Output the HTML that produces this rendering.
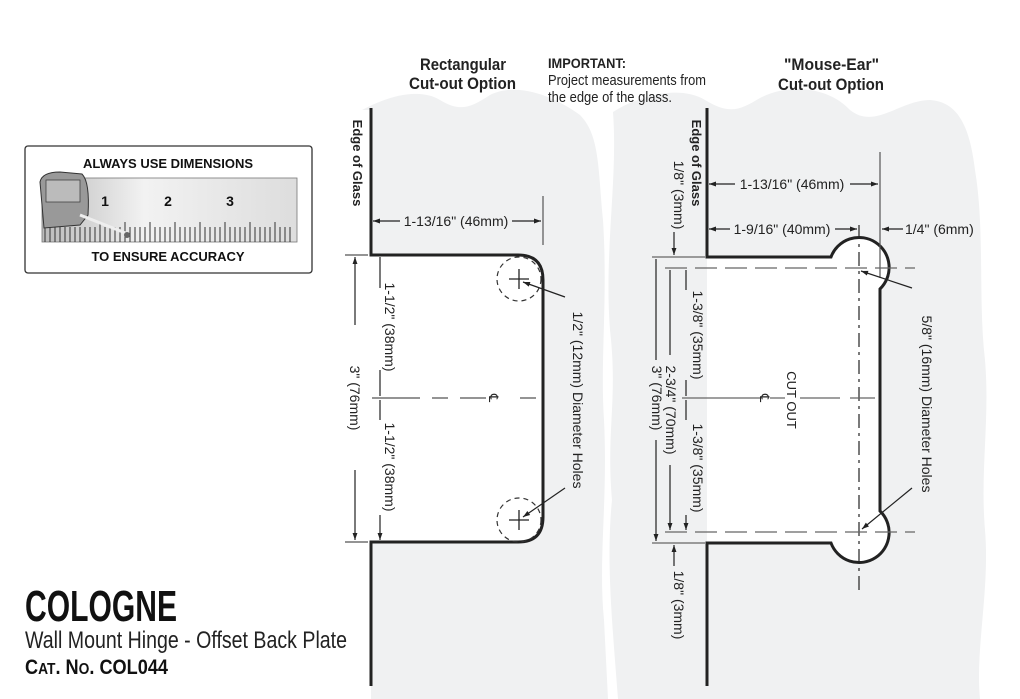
<!DOCTYPE html>
<html><head><meta charset="utf-8"><style>
html,body{margin:0;padding:0;background:#fff;}
svg{display:block;font-family:"Liberation Sans",sans-serif;}
</style></head><body>
<svg width="1020" height="699" viewBox="0 0 1020 699" xmlns="http://www.w3.org/2000/svg">
<defs>
<marker id="a" viewBox="0 0 10 10" refX="10" refY="5" markerWidth="9" markerHeight="7" orient="auto-start-reverse" markerUnits="userSpaceOnUse"><path d="M0,1.5 L10,5 L0,8.5 z" fill="#222"/></marker>
<linearGradient id="g" x1="0" x2="1"><stop offset="0" stop-color="#bbb"/><stop offset="0.4" stop-color="#f2f2f2"/><stop offset="1" stop-color="#ddd"/></linearGradient>
</defs>
<path d="M362,110 C390,95 420,88 440,100 C460,112 470,108 490,95 C520,80 560,100 580,115 C600,135 598,170 603,220 C608,300 600,360 604,420 C608,500 598,560 604,620 L608,699 L371,699 L371,110 Z" fill="#f0f1f2"/>
<path d="M613,112 C640,95 680,85 705,100 C730,115 740,110 760,98 C790,82 830,88 850,110 C875,130 900,100 930,100 C960,102 970,130 975,170 C985,230 978,300 985,360 C990,420 980,470 985,530 C990,590 975,650 980,699 L618,699 C612,620 606,560 612,500 C606,430 618,400 610,330 C604,250 618,180 613,112 Z" fill="#f0f1f2"/>
<path d="M371,255 L518,255 Q543,255 543,280 L543,517 Q543,542 518,542 L371,542 Z" fill="#fff"/>
<path d="M707,257 L831,257 A30,30 0 1 1 880,289 L880,511 A30,30 0 1 1 831,543 L707,543 Z" fill="#fff"/>
<path d="M371,108 L371,255 L518,255 Q543,255 543,280 L543,517 Q543,542 518,542 L371,542 L371,686" fill="none" stroke="#222" stroke-width="3"/>
<path d="M707,108 L707,257 L831,257 A30,30 0 1 1 880,289 L880,511 A30,30 0 1 1 831,543 L707,543 L707,686" fill="none" stroke="#222" stroke-width="3"/>
<circle cx="519" cy="279" r="22" fill="none" stroke="#333" stroke-width="1.2" stroke-dasharray="5,4"/>
<circle cx="519" cy="520" r="22" fill="none" stroke="#333" stroke-width="1.2" stroke-dasharray="5,4"/>
<path d="M509,279h20M519,269v20M509,520h20M519,510v20" stroke="#222" stroke-width="1.3"/>
<path d="M565,297 L523,282" stroke="#222" stroke-width="1.2" marker-end="url(#a)"/>
<path d="M565,488 L523,517" stroke="#222" stroke-width="1.2" marker-end="url(#a)"/>
<path d="M543,196 L543,245" stroke="#555" stroke-width="1.2"/>
<path d="M400,221 L373,221" stroke="#222" stroke-width="1.2" marker-end="url(#a)"/>
<path d="M512,221 L541,221" stroke="#222" stroke-width="1.2" marker-end="url(#a)"/>
<text x="456" y="226" font-size="14" text-anchor="middle" fill="#222">1-13/16" (46mm)</text>
<path d="M345,255 L368,255 M345,542 L368,542" stroke="#555" stroke-width="1.2"/>
<path d="M355,325 L355,257" stroke="#222" stroke-width="1.2" marker-end="url(#a)"/>
<path d="M355,470 L355,540" stroke="#222" stroke-width="1.2" marker-end="url(#a)"/>
<path d="M380,288 L380,257 M380,370 L380,396 M380,420 L380,400 M380,515 L380,540" stroke="#222" stroke-width="1.2" marker-end="url(#a)"/>
<path d="M372,398 H420 M432,398 H448 M460,398 H486 M520,398 H536" stroke="#555" stroke-width="1.3"/>
<text transform="translate(350,398) rotate(90)" font-size="14" text-anchor="middle" fill="#222">3" (76mm)</text>
<text transform="translate(385,327) rotate(90)" font-size="14" text-anchor="middle" fill="#222">1-1/2" (38mm)</text>
<text transform="translate(385,467) rotate(90)" font-size="14" text-anchor="middle" fill="#222">1-1/2" (38mm)</text>
<text transform="translate(489,398) rotate(90)" font-size="13" text-anchor="middle" fill="#222">℄</text>
<text transform="translate(573,400) rotate(90)" font-size="14" text-anchor="middle" fill="#222">1/2" (12mm) Diameter Holes</text>
<text transform="translate(353,163) rotate(90)" font-size="13" font-weight="bold" text-anchor="middle" fill="#222">Edge of Glass</text>
<path d="M859,225 V590" stroke="#222" stroke-width="1.2" stroke-dasharray="14,5,3,5"/>
<path d="M880,152 V278" stroke="#555" stroke-width="1.2"/>
<path d="M665,268 H915 M665,532 H915" stroke="#666" stroke-width="1.3" stroke-dasharray="22,8"/>
<path d="M682,398 H760 M770,398 H785 M800,398 H840 M850,398 H875" stroke="#666" stroke-width="1.3"/>
<path d="M652,257 H705 M652,543 H705" stroke="#666" stroke-width="1.2"/>
<path d="M735,184 L709,184" stroke="#222" stroke-width="1.2" marker-end="url(#a)"/>
<path d="M850,184 L878,184" stroke="#222" stroke-width="1.2" marker-end="url(#a)"/>
<text x="792" y="189" font-size="14" text-anchor="middle" fill="#222">1-13/16" (46mm)</text>
<path d="M730,229 L709,229" stroke="#222" stroke-width="1.2" marker-end="url(#a)"/>
<path d="M835,229 L857,229" stroke="#222" stroke-width="1.2" marker-end="url(#a)"/>
<text x="782" y="234" font-size="14" text-anchor="middle" fill="#222">1-9/16" (40mm)</text>
<path d="M903,229 L882,229" stroke="#222" stroke-width="1.2" marker-end="url(#a)"/>
<text x="905" y="234" font-size="14" fill="#222">1/4" (6mm)</text>
<text transform="translate(674,195) rotate(90)" font-size="14" text-anchor="middle" fill="#222">1/8" (3mm)</text>
<path d="M674,232 L674,255" stroke="#222" stroke-width="1.2" marker-end="url(#a)"/>
<path d="M674,566 L674,545" stroke="#222" stroke-width="1.2" marker-end="url(#a)"/>
<text transform="translate(674,605) rotate(90)" font-size="14" text-anchor="middle" fill="#222">1/8" (3mm)</text>
<path d="M656,360 L656,259 M656,440 L656,541" stroke="#222" stroke-width="1.2" marker-end="url(#a)"/>
<path d="M670,355 L670,270 M670,465 L670,530" stroke="#222" stroke-width="1.2" marker-end="url(#a)"/>
<path d="M686,290 L686,270 M686,380 L686,396 M686,420 L686,400 M686,515 L686,530" stroke="#222" stroke-width="1.2" marker-end="url(#a)"/>
<text transform="translate(652,398) rotate(90)" font-size="14" text-anchor="middle" fill="#222">3" (76mm)</text>
<text transform="translate(666,410) rotate(90)" font-size="14" text-anchor="middle" fill="#222">2-3/4" (70mm)</text>
<text transform="translate(693,335) rotate(90)" font-size="14" text-anchor="middle" fill="#222">1-3/8" (35mm)</text>
<text transform="translate(693,468) rotate(90)" font-size="14" text-anchor="middle" fill="#222">1-3/8" (35mm)</text>
<text transform="translate(760,398) rotate(90)" font-size="13" text-anchor="middle" fill="#222">℄</text>
<text transform="translate(787,400) rotate(90)" font-size="13" text-anchor="middle" fill="#222">CUT OUT</text>
<text transform="translate(922,404) rotate(90)" font-size="14" text-anchor="middle" fill="#222">5/8" (16mm) Diameter Holes</text>
<text transform="translate(692,163) rotate(90)" font-size="13" font-weight="bold" text-anchor="middle" fill="#222">Edge of Glass</text>
<path d="M912,288 L861,271" stroke="#222" stroke-width="1.2" marker-end="url(#a)"/>
<path d="M912,488 L862,529" stroke="#222" stroke-width="1.2" marker-end="url(#a)"/>
<text x="420" y="70" font-size="17" font-weight="bold" fill="#222" textLength="86" lengthAdjust="spacingAndGlyphs">Rectangular</text>
<text x="409" y="89" font-size="17" font-weight="bold" fill="#222" textLength="107" lengthAdjust="spacingAndGlyphs">Cut-out Option</text>
<text x="548" y="68" font-size="14" font-weight="bold" fill="#222" textLength="78" lengthAdjust="spacingAndGlyphs">IMPORTANT:</text>
<text x="548" y="85" font-size="15" fill="#222" textLength="158" lengthAdjust="spacingAndGlyphs">Project measurements from</text>
<text x="548" y="102" font-size="15" fill="#222" textLength="124" lengthAdjust="spacingAndGlyphs">the edge of the glass.</text>
<text x="784" y="70" font-size="17" font-weight="bold" fill="#222" textLength="95" lengthAdjust="spacingAndGlyphs">"Mouse-Ear"</text>
<text x="778" y="90" font-size="17" font-weight="bold" fill="#222" textLength="106" lengthAdjust="spacingAndGlyphs">Cut-out Option</text>
<rect x="25" y="146" width="287" height="127" rx="3" fill="#fff" stroke="#333" stroke-width="1.3"/>
<text x="168" y="168" font-size="13" font-weight="bold" text-anchor="middle" fill="#111">ALWAYS USE DIMENSIONS</text>
<text x="168" y="261" font-size="13" font-weight="bold" text-anchor="middle" fill="#111">TO ENSURE ACCURACY</text>
<rect x="42" y="178" width="255" height="64" fill="url(#g)" stroke="#777" stroke-width="0.8"/>
<g stroke="#333" stroke-width="1">
<path d="M45,242v-15M50,242v-15M55,242v-15M60,242v-15M65,242v-15M70,242v-15M75,242v-15M80,242v-15M85,242v-15M90,242v-15M95,242v-15M100,242v-20M105,242v-15M110,242v-15M115,242v-15M120,242v-15M125,242v-20M130,242v-15M135,242v-15M140,242v-15M145,242v-15M150,242v-20M155,242v-15M160,242v-15M165,242v-15M170,242v-15M175,242v-20M180,242v-15M185,242v-15M190,242v-15M195,242v-15M200,242v-20M205,242v-15M210,242v-15M215,242v-15M220,242v-15M225,242v-20M230,242v-15M235,242v-15M240,242v-15M245,242v-15M250,242v-20M255,242v-15M260,242v-15M265,242v-15M270,242v-15M275,242v-20M280,242v-15M285,242v-15M290,242v-15"/>
</g>
<text x="105" y="206" font-size="14" font-weight="bold" text-anchor="middle" fill="#111">1</text>
<text x="168" y="206" font-size="14" font-weight="bold" text-anchor="middle" fill="#111">2</text>
<text x="230" y="206" font-size="14" font-weight="bold" text-anchor="middle" fill="#111">3</text>
<path d="M40,182 Q42,172 60,172 L82,174 Q90,182 88,215 L80,225 L44,228 Z" fill="#999" stroke="#333" stroke-width="1"/>
<rect x="46" y="180" width="34" height="22" fill="#bbb" stroke="#444" stroke-width="0.8"/>
<path d="M80,215 L128,234" stroke="#eee" stroke-width="3"/>
<circle cx="127" cy="235" r="3" fill="#666"/>
<text x="25" y="621" font-size="44" font-weight="bold" fill="#111" textLength="152" lengthAdjust="spacingAndGlyphs">COLOGNE</text>
<text x="25" y="648" font-size="24" fill="#222" textLength="322" lengthAdjust="spacingAndGlyphs">Wall Mount Hinge - Offset Back Plate</text>
<text x="25" y="674" font-size="21" font-weight="bold" fill="#111" textLength="143" lengthAdjust="spacingAndGlyphs">C<tspan font-size="16">AT</tspan>. N<tspan font-size="16">O</tspan>. COL044</text>
</svg>
</body></html>
